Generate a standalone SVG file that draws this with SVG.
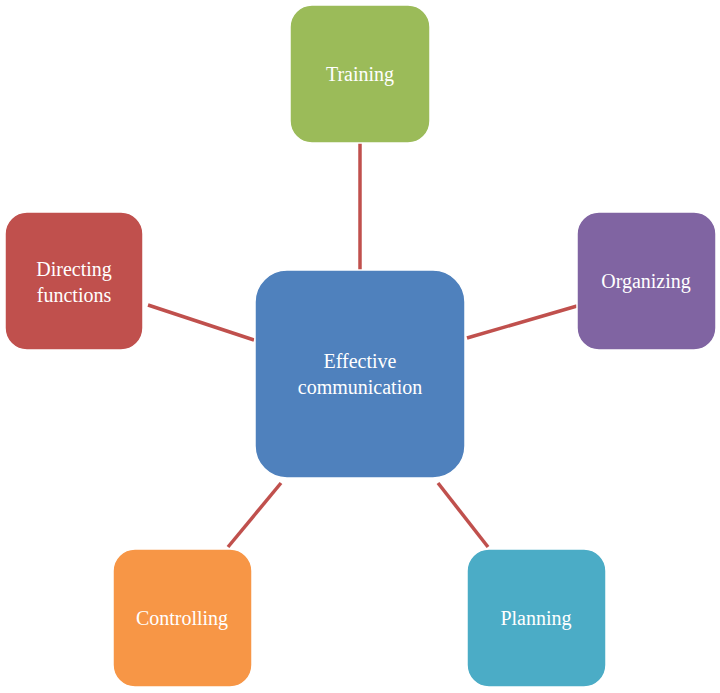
<svg xmlns="http://www.w3.org/2000/svg" width="720" height="693" viewBox="0 0 720 693">
<style>
.n{stroke:#fff;stroke-width:1.5}
.t{font-family:"Liberation Serif",serif;font-size:20px;fill:#fff;text-anchor:middle}
.c line{stroke:#C0504D;stroke-width:3.5}
</style>
<rect width="720" height="693" fill="#fff"/>
<g class="c" id="connectors">
<line x1="360" y1="143" x2="360" y2="270"/>
<line x1="467" y1="338" x2="577" y2="306"/>
<line x1="148" y1="305" x2="254" y2="340"/>
<line x1="281" y1="483" x2="228" y2="547"/>
<line x1="438" y1="483" x2="488" y2="547"/>
</g>
<g id="center"><rect class="n" x="255" y="270" width="210" height="208" rx="32" fill="#4F81BD"/>
<text class="t" x="360" y="368">Effective</text><text class="t" x="360" y="394">communication</text></g>
<g id="training"><rect class="n" x="290" y="5" width="140" height="138" rx="22" fill="#9BBB59"/><text class="t" x="360" y="81">Training</text></g>
<g id="organizing"><rect class="n" x="577" y="212" width="139" height="138" rx="22" fill="#8064A2"/><text class="t" x="646" y="288">Organizing</text></g>
<g id="directing"><rect class="n" x="5" y="212" width="138" height="138" rx="22" fill="#C0504D"/><text class="t" x="74" y="276">Directing</text><text class="t" x="74" y="302">functions</text></g>
<g id="controlling"><rect class="n" x="113" y="549" width="139" height="138" rx="22" fill="#F79646"/><text class="t" x="182" y="625">Controlling</text></g>
<g id="planning"><rect class="n" x="467" y="549" width="139" height="138" rx="22" fill="#4BACC6"/><text class="t" x="536" y="625">Planning</text></g>
</svg>
